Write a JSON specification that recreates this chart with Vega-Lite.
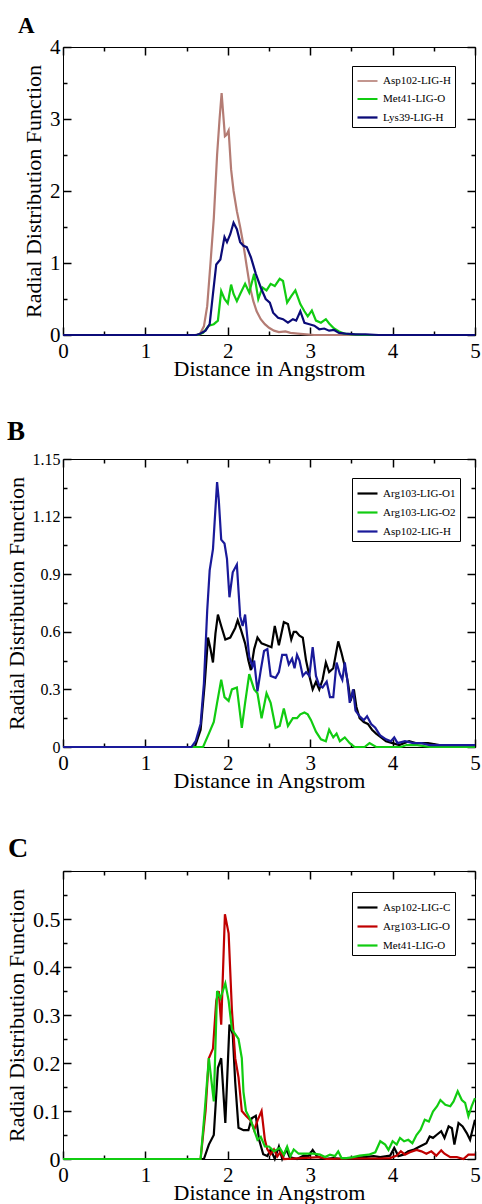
{
  "$schema": "https://vega.github.io/schema/vega-lite/v6.json",
  "padding": {"left": 4, "top": 14, "right": 5, "bottom": 0},
  "background": "white",
  "config": {
    "font": "Liberation Serif",
    "view": {"stroke": "black", "strokeWidth": 1},
    "axis": {"grid": false, "domain": false, "ticks": true, "zindex": 1, "tickColor": "black", "tickOpacity": 1, "tickWidth": 1.5, "tickSize": 8, "labelColor": "black", "titleColor": "black", "labelFont": "Liberation Serif", "titleFont": "Liberation Serif", "titleFontWeight": "normal", "labelFontSize": 21, "titleFontSize": 22, "labelOverlap": false, "labelFlush": false},
    "axisX": {"labelPadding": 5, "titlePadding": -3},
    "axisY": {"labelPadding": 3, "titlePadding": 4},
    "legend": {"orient": "none", "legendX": 289, "legendY": 19, "strokeColor": "black", "fillColor": "white", "padding": 4, "labelFont": "Liberation Serif", "labelFontSize": 11, "labelColor": "black", "symbolType": "stroke", "symbolSize": 400, "symbolStrokeWidth": 2.2, "rowPadding": 2, "labelOffset": 4, "title": null},
    "line": {"strokeWidth": 2.2}
  },
  "datasets": {
    "A": [
      {"s":"Asp102-LIG-H","x":0,"y":0},{"s":"Asp102-LIG-H","x":1.6,"y":0},{"s":"Asp102-LIG-H","x":1.66,"y":0.01},{"s":"Asp102-LIG-H","x":1.71,"y":0.12},{"s":"Asp102-LIG-H","x":1.75,"y":0.4},{"s":"Asp102-LIG-H","x":1.79,"y":1.0},{"s":"Asp102-LIG-H","x":1.83,"y":1.62},{"s":"Asp102-LIG-H","x":1.87,"y":2.5},{"s":"Asp102-LIG-H","x":1.9,"y":3.0},{"s":"Asp102-LIG-H","x":1.925,"y":3.36},{"s":"Asp102-LIG-H","x":1.965,"y":2.76},{"s":"Asp102-LIG-H","x":1.985,"y":2.78},{"s":"Asp102-LIG-H","x":2.01,"y":2.84},{"s":"Asp102-LIG-H","x":2.04,"y":2.3},{"s":"Asp102-LIG-H","x":2.07,"y":2.0},{"s":"Asp102-LIG-H","x":2.11,"y":1.72},{"s":"Asp102-LIG-H","x":2.15,"y":1.5},{"s":"Asp102-LIG-H","x":2.19,"y":1.25},{"s":"Asp102-LIG-H","x":2.23,"y":0.95},{"s":"Asp102-LIG-H","x":2.27,"y":0.66},{"s":"Asp102-LIG-H","x":2.31,"y":0.47},{"s":"Asp102-LIG-H","x":2.35,"y":0.33},{"s":"Asp102-LIG-H","x":2.4,"y":0.22},{"s":"Asp102-LIG-H","x":2.45,"y":0.15},{"s":"Asp102-LIG-H","x":2.5,"y":0.1},{"s":"Asp102-LIG-H","x":2.56,"y":0.06},{"s":"Asp102-LIG-H","x":2.62,"y":0.04},{"s":"Asp102-LIG-H","x":2.7,"y":0.05},{"s":"Asp102-LIG-H","x":2.76,"y":0.03},{"s":"Asp102-LIG-H","x":2.85,"y":0.02},{"s":"Asp102-LIG-H","x":2.95,"y":0.01},{"s":"Asp102-LIG-H","x":3.05,"y":0},{"s":"Asp102-LIG-H","x":5,"y":0},
      {"s":"Met41-LIG-O","x":0,"y":0},{"s":"Met41-LIG-O","x":1.63,"y":0},{"s":"Met41-LIG-O","x":1.7,"y":0.03},{"s":"Met41-LIG-O","x":1.77,"y":0.13},{"s":"Met41-LIG-O","x":1.83,"y":0.15},{"s":"Met41-LIG-O","x":1.88,"y":0.2},{"s":"Met41-LIG-O","x":1.92,"y":0.61},{"s":"Met41-LIG-O","x":1.96,"y":0.5},{"s":"Met41-LIG-O","x":2.0,"y":0.44},{"s":"Met41-LIG-O","x":2.04,"y":0.7},{"s":"Met41-LIG-O","x":2.07,"y":0.57},{"s":"Met41-LIG-O","x":2.11,"y":0.47},{"s":"Met41-LIG-O","x":2.15,"y":0.57},{"s":"Met41-LIG-O","x":2.21,"y":0.71},{"s":"Met41-LIG-O","x":2.26,"y":0.59},{"s":"Met41-LIG-O","x":2.32,"y":0.85},{"s":"Met41-LIG-O","x":2.37,"y":0.5},{"s":"Met41-LIG-O","x":2.42,"y":0.66},{"s":"Met41-LIG-O","x":2.47,"y":0.62},{"s":"Met41-LIG-O","x":2.52,"y":0.71},{"s":"Met41-LIG-O","x":2.57,"y":0.68},{"s":"Met41-LIG-O","x":2.63,"y":0.78},{"s":"Met41-LIG-O","x":2.67,"y":0.75},{"s":"Met41-LIG-O","x":2.72,"y":0.45},{"s":"Met41-LIG-O","x":2.77,"y":0.54},{"s":"Met41-LIG-O","x":2.82,"y":0.62},{"s":"Met41-LIG-O","x":2.88,"y":0.43},{"s":"Met41-LIG-O","x":2.93,"y":0.33},{"s":"Met41-LIG-O","x":2.97,"y":0.26},{"s":"Met41-LIG-O","x":3.02,"y":0.34},{"s":"Met41-LIG-O","x":3.07,"y":0.2},{"s":"Met41-LIG-O","x":3.13,"y":0.17},{"s":"Met41-LIG-O","x":3.19,"y":0.22},{"s":"Met41-LIG-O","x":3.23,"y":0.16},{"s":"Met41-LIG-O","x":3.29,"y":0.09},{"s":"Met41-LIG-O","x":3.35,"y":0.05},{"s":"Met41-LIG-O","x":3.41,"y":0.02},{"s":"Met41-LIG-O","x":3.51,"y":0.01},{"s":"Met41-LIG-O","x":3.63,"y":0},{"s":"Met41-LIG-O","x":5,"y":0},
      {"s":"Lys39-LIG-H","x":0,"y":0},{"s":"Lys39-LIG-H","x":1.62,"y":0},{"s":"Lys39-LIG-H","x":1.67,"y":0.02},{"s":"Lys39-LIG-H","x":1.73,"y":0.06},{"s":"Lys39-LIG-H","x":1.78,"y":0.15},{"s":"Lys39-LIG-H","x":1.82,"y":0.57},{"s":"Lys39-LIG-H","x":1.86,"y":0.98},{"s":"Lys39-LIG-H","x":1.91,"y":1.05},{"s":"Lys39-LIG-H","x":1.96,"y":1.36},{"s":"Lys39-LIG-H","x":1.99,"y":1.29},{"s":"Lys39-LIG-H","x":2.03,"y":1.4},{"s":"Lys39-LIG-H","x":2.07,"y":1.56},{"s":"Lys39-LIG-H","x":2.11,"y":1.47},{"s":"Lys39-LIG-H","x":2.15,"y":1.29},{"s":"Lys39-LIG-H","x":2.19,"y":1.24},{"s":"Lys39-LIG-H","x":2.23,"y":1.22},{"s":"Lys39-LIG-H","x":2.28,"y":1.08},{"s":"Lys39-LIG-H","x":2.34,"y":0.85},{"s":"Lys39-LIG-H","x":2.4,"y":0.66},{"s":"Lys39-LIG-H","x":2.46,"y":0.5},{"s":"Lys39-LIG-H","x":2.51,"y":0.45},{"s":"Lys39-LIG-H","x":2.55,"y":0.31},{"s":"Lys39-LIG-H","x":2.61,"y":0.24},{"s":"Lys39-LIG-H","x":2.67,"y":0.22},{"s":"Lys39-LIG-H","x":2.73,"y":0.17},{"s":"Lys39-LIG-H","x":2.79,"y":0.22},{"s":"Lys39-LIG-H","x":2.83,"y":0.2},{"s":"Lys39-LIG-H","x":2.88,"y":0.33},{"s":"Lys39-LIG-H","x":2.93,"y":0.17},{"s":"Lys39-LIG-H","x":2.99,"y":0.15},{"s":"Lys39-LIG-H","x":3.05,"y":0.13},{"s":"Lys39-LIG-H","x":3.11,"y":0.08},{"s":"Lys39-LIG-H","x":3.17,"y":0.09},{"s":"Lys39-LIG-H","x":3.23,"y":0.06},{"s":"Lys39-LIG-H","x":3.29,"y":0.07},{"s":"Lys39-LIG-H","x":3.35,"y":0.03},{"s":"Lys39-LIG-H","x":3.43,"y":0.02},{"s":"Lys39-LIG-H","x":3.55,"y":0.01},{"s":"Lys39-LIG-H","x":3.67,"y":0.01},{"s":"Lys39-LIG-H","x":3.83,"y":0},{"s":"Lys39-LIG-H","x":5,"y":0}
    ],
    "B": [
      {"s":"Arg103-LIG-O1","x":0,"y":0},{"s":"Arg103-LIG-O1","x":1.6,"y":0},{"s":"Arg103-LIG-O1","x":1.67,"y":0.09},{"s":"Arg103-LIG-O1","x":1.72,"y":0.33},{"s":"Arg103-LIG-O1","x":1.76,"y":0.57},{"s":"Arg103-LIG-O1","x":1.79,"y":0.51},{"s":"Arg103-LIG-O1","x":1.82,"y":0.44},{"s":"Arg103-LIG-O1","x":1.85,"y":0.59},{"s":"Arg103-LIG-O1","x":1.88,"y":0.69},{"s":"Arg103-LIG-O1","x":1.92,"y":0.63},{"s":"Arg103-LIG-O1","x":1.97,"y":0.56},{"s":"Arg103-LIG-O1","x":2.03,"y":0.57},{"s":"Arg103-LIG-O1","x":2.09,"y":0.62},{"s":"Arg103-LIG-O1","x":2.12,"y":0.66},{"s":"Arg103-LIG-O1","x":2.16,"y":0.61},{"s":"Arg103-LIG-O1","x":2.21,"y":0.54},{"s":"Arg103-LIG-O1","x":2.25,"y":0.45},{"s":"Arg103-LIG-O1","x":2.28,"y":0.4},{"s":"Arg103-LIG-O1","x":2.32,"y":0.51},{"s":"Arg103-LIG-O1","x":2.36,"y":0.57},{"s":"Arg103-LIG-O1","x":2.41,"y":0.54},{"s":"Arg103-LIG-O1","x":2.47,"y":0.53},{"s":"Arg103-LIG-O1","x":2.53,"y":0.52},{"s":"Arg103-LIG-O1","x":2.57,"y":0.63},{"s":"Arg103-LIG-O1","x":2.62,"y":0.53},{"s":"Arg103-LIG-O1","x":2.68,"y":0.65},{"s":"Arg103-LIG-O1","x":2.73,"y":0.64},{"s":"Arg103-LIG-O1","x":2.77,"y":0.56},{"s":"Arg103-LIG-O1","x":2.8,"y":0.6},{"s":"Arg103-LIG-O1","x":2.83,"y":0.6},{"s":"Arg103-LIG-O1","x":2.87,"y":0.58},{"s":"Arg103-LIG-O1","x":2.91,"y":0.57},{"s":"Arg103-LIG-O1","x":2.95,"y":0.45},{"s":"Arg103-LIG-O1","x":2.99,"y":0.37},{"s":"Arg103-LIG-O1","x":3.03,"y":0.3},{"s":"Arg103-LIG-O1","x":3.07,"y":0.34},{"s":"Arg103-LIG-O1","x":3.11,"y":0.3},{"s":"Arg103-LIG-O1","x":3.15,"y":0.35},{"s":"Arg103-LIG-O1","x":3.19,"y":0.44},{"s":"Arg103-LIG-O1","x":3.23,"y":0.39},{"s":"Arg103-LIG-O1","x":3.28,"y":0.41},{"s":"Arg103-LIG-O1","x":3.34,"y":0.55},{"s":"Arg103-LIG-O1","x":3.38,"y":0.49},{"s":"Arg103-LIG-O1","x":3.42,"y":0.42},{"s":"Arg103-LIG-O1","x":3.46,"y":0.33},{"s":"Arg103-LIG-O1","x":3.49,"y":0.24},{"s":"Arg103-LIG-O1","x":3.53,"y":0.3},{"s":"Arg103-LIG-O1","x":3.56,"y":0.21},{"s":"Arg103-LIG-O1","x":3.6,"y":0.15},{"s":"Arg103-LIG-O1","x":3.65,"y":0.13},{"s":"Arg103-LIG-O1","x":3.7,"y":0.12},{"s":"Arg103-LIG-O1","x":3.75,"y":0.09},{"s":"Arg103-LIG-O1","x":3.8,"y":0.07},{"s":"Arg103-LIG-O1","x":3.86,"y":0.05},{"s":"Arg103-LIG-O1","x":3.92,"y":0.03},{"s":"Arg103-LIG-O1","x":4.0,"y":0.02},{"s":"Arg103-LIG-O1","x":4.08,"y":0.01},{"s":"Arg103-LIG-O1","x":4.2,"y":0.03},{"s":"Arg103-LIG-O1","x":4.28,"y":0.02},{"s":"Arg103-LIG-O1","x":4.43,"y":0.02},{"s":"Arg103-LIG-O1","x":4.57,"y":0.01},{"s":"Arg103-LIG-O1","x":4.73,"y":0.01},{"s":"Arg103-LIG-O1","x":4.89,"y":0.01},{"s":"Arg103-LIG-O1","x":5.0,"y":0.01},
      {"s":"Arg103-LIG-O2","x":0,"y":0},{"s":"Arg103-LIG-O2","x":1.7,"y":0},{"s":"Arg103-LIG-O2","x":1.77,"y":0.07},{"s":"Arg103-LIG-O2","x":1.83,"y":0.13},{"s":"Arg103-LIG-O2","x":1.87,"y":0.23},{"s":"Arg103-LIG-O2","x":1.92,"y":0.35},{"s":"Arg103-LIG-O2","x":1.96,"y":0.26},{"s":"Arg103-LIG-O2","x":2.01,"y":0.24},{"s":"Arg103-LIG-O2","x":2.05,"y":0.3},{"s":"Arg103-LIG-O2","x":2.11,"y":0.31},{"s":"Arg103-LIG-O2","x":2.17,"y":0.1},{"s":"Arg103-LIG-O2","x":2.21,"y":0.23},{"s":"Arg103-LIG-O2","x":2.26,"y":0.38},{"s":"Arg103-LIG-O2","x":2.32,"y":0.3},{"s":"Arg103-LIG-O2","x":2.36,"y":0.28},{"s":"Arg103-LIG-O2","x":2.41,"y":0.15},{"s":"Arg103-LIG-O2","x":2.47,"y":0.28},{"s":"Arg103-LIG-O2","x":2.52,"y":0.23},{"s":"Arg103-LIG-O2","x":2.58,"y":0.1},{"s":"Arg103-LIG-O2","x":2.63,"y":0.11},{"s":"Arg103-LIG-O2","x":2.68,"y":0.2},{"s":"Arg103-LIG-O2","x":2.73,"y":0.11},{"s":"Arg103-LIG-O2","x":2.79,"y":0.15},{"s":"Arg103-LIG-O2","x":2.84,"y":0.15},{"s":"Arg103-LIG-O2","x":2.88,"y":0.17},{"s":"Arg103-LIG-O2","x":2.93,"y":0.18},{"s":"Arg103-LIG-O2","x":2.97,"y":0.17},{"s":"Arg103-LIG-O2","x":3.01,"y":0.14},{"s":"Arg103-LIG-O2","x":3.07,"y":0.08},{"s":"Arg103-LIG-O2","x":3.13,"y":0.04},{"s":"Arg103-LIG-O2","x":3.19,"y":0.03},{"s":"Arg103-LIG-O2","x":3.23,"y":0.09},{"s":"Arg103-LIG-O2","x":3.28,"y":0.05},{"s":"Arg103-LIG-O2","x":3.32,"y":0.07},{"s":"Arg103-LIG-O2","x":3.36,"y":0.03},{"s":"Arg103-LIG-O2","x":3.42,"y":0.05},{"s":"Arg103-LIG-O2","x":3.48,"y":0.02},{"s":"Arg103-LIG-O2","x":3.54,"y":0},{"s":"Arg103-LIG-O2","x":3.66,"y":0},{"s":"Arg103-LIG-O2","x":3.72,"y":0.02},{"s":"Arg103-LIG-O2","x":3.8,"y":0},{"s":"Arg103-LIG-O2","x":4.1,"y":0},{"s":"Arg103-LIG-O2","x":4.17,"y":0.01},{"s":"Arg103-LIG-O2","x":4.3,"y":0.01},{"s":"Arg103-LIG-O2","x":4.45,"y":0},{"s":"Arg103-LIG-O2","x":5,"y":0},
      {"s":"Asp102-LIG-H","x":0,"y":0},{"s":"Asp102-LIG-H","x":1.56,"y":0},{"s":"Asp102-LIG-H","x":1.61,"y":0.03},{"s":"Asp102-LIG-H","x":1.67,"y":0.12},{"s":"Asp102-LIG-H","x":1.71,"y":0.33},{"s":"Asp102-LIG-H","x":1.75,"y":0.71},{"s":"Asp102-LIG-H","x":1.78,"y":0.92},{"s":"Asp102-LIG-H","x":1.82,"y":1.03},{"s":"Asp102-LIG-H","x":1.84,"y":1.17},{"s":"Asp102-LIG-H","x":1.87,"y":1.38},{"s":"Asp102-LIG-H","x":1.89,"y":1.29},{"s":"Asp102-LIG-H","x":1.92,"y":1.08},{"s":"Asp102-LIG-H","x":1.96,"y":1.06},{"s":"Asp102-LIG-H","x":1.99,"y":0.98},{"s":"Asp102-LIG-H","x":2.02,"y":0.78},{"s":"Asp102-LIG-H","x":2.06,"y":0.91},{"s":"Asp102-LIG-H","x":2.11,"y":0.95},{"s":"Asp102-LIG-H","x":2.15,"y":0.68},{"s":"Asp102-LIG-H","x":2.18,"y":0.63},{"s":"Asp102-LIG-H","x":2.21,"y":0.69},{"s":"Asp102-LIG-H","x":2.26,"y":0.47},{"s":"Asp102-LIG-H","x":2.3,"y":0.42},{"s":"Asp102-LIG-H","x":2.32,"y":0.45},{"s":"Asp102-LIG-H","x":2.36,"y":0.29},{"s":"Asp102-LIG-H","x":2.4,"y":0.4},{"s":"Asp102-LIG-H","x":2.44,"y":0.5},{"s":"Asp102-LIG-H","x":2.48,"y":0.51},{"s":"Asp102-LIG-H","x":2.52,"y":0.37},{"s":"Asp102-LIG-H","x":2.58,"y":0.36},{"s":"Asp102-LIG-H","x":2.62,"y":0.39},{"s":"Asp102-LIG-H","x":2.66,"y":0.48},{"s":"Asp102-LIG-H","x":2.71,"y":0.48},{"s":"Asp102-LIG-H","x":2.74,"y":0.43},{"s":"Asp102-LIG-H","x":2.78,"y":0.46},{"s":"Asp102-LIG-H","x":2.81,"y":0.41},{"s":"Asp102-LIG-H","x":2.84,"y":0.48},{"s":"Asp102-LIG-H","x":2.87,"y":0.45},{"s":"Asp102-LIG-H","x":2.91,"y":0.37},{"s":"Asp102-LIG-H","x":2.95,"y":0.39},{"s":"Asp102-LIG-H","x":2.99,"y":0.37},{"s":"Asp102-LIG-H","x":3.03,"y":0.52},{"s":"Asp102-LIG-H","x":3.07,"y":0.37},{"s":"Asp102-LIG-H","x":3.11,"y":0.32},{"s":"Asp102-LIG-H","x":3.15,"y":0.31},{"s":"Asp102-LIG-H","x":3.2,"y":0.34},{"s":"Asp102-LIG-H","x":3.24,"y":0.26},{"s":"Asp102-LIG-H","x":3.28,"y":0.26},{"s":"Asp102-LIG-H","x":3.32,"y":0.44},{"s":"Asp102-LIG-H","x":3.36,"y":0.38},{"s":"Asp102-LIG-H","x":3.39,"y":0.35},{"s":"Asp102-LIG-H","x":3.42,"y":0.44},{"s":"Asp102-LIG-H","x":3.45,"y":0.35},{"s":"Asp102-LIG-H","x":3.48,"y":0.23},{"s":"Asp102-LIG-H","x":3.52,"y":0.3},{"s":"Asp102-LIG-H","x":3.55,"y":0.19},{"s":"Asp102-LIG-H","x":3.6,"y":0.16},{"s":"Asp102-LIG-H","x":3.65,"y":0.14},{"s":"Asp102-LIG-H","x":3.69,"y":0.16},{"s":"Asp102-LIG-H","x":3.74,"y":0.12},{"s":"Asp102-LIG-H","x":3.79,"y":0.1},{"s":"Asp102-LIG-H","x":3.85,"y":0.06},{"s":"Asp102-LIG-H","x":3.92,"y":0.04},{"s":"Asp102-LIG-H","x":3.98,"y":0.03},{"s":"Asp102-LIG-H","x":4.02,"y":0.05},{"s":"Asp102-LIG-H","x":4.06,"y":0.02},{"s":"Asp102-LIG-H","x":4.15,"y":0.03},{"s":"Asp102-LIG-H","x":4.25,"y":0.02},{"s":"Asp102-LIG-H","x":4.35,"y":0.02},{"s":"Asp102-LIG-H","x":4.45,"y":0.01},{"s":"Asp102-LIG-H","x":4.57,"y":0.01},{"s":"Asp102-LIG-H","x":4.69,"y":0.01},{"s":"Asp102-LIG-H","x":4.81,"y":0.01},{"s":"Asp102-LIG-H","x":4.94,"y":0.01},{"s":"Asp102-LIG-H","x":5,"y":0.01}
    ],
    "C": [
      {"s":"Asp102-LIG-C","x":0,"y":0},{"s":"Asp102-LIG-C","x":1.71,"y":0},{"s":"Asp102-LIG-C","x":1.77,"y":0.03},{"s":"Asp102-LIG-C","x":1.83,"y":0.05},{"s":"Asp102-LIG-C","x":1.88,"y":0.19},{"s":"Asp102-LIG-C","x":1.92,"y":0.21},{"s":"Asp102-LIG-C","x":1.97,"y":0.075},{"s":"Asp102-LIG-C","x":2.02,"y":0.28},{"s":"Asp102-LIG-C","x":2.06,"y":0.26},{"s":"Asp102-LIG-C","x":2.09,"y":0.16},{"s":"Asp102-LIG-C","x":2.13,"y":0.065},{"s":"Asp102-LIG-C","x":2.19,"y":0.06},{"s":"Asp102-LIG-C","x":2.25,"y":0.06},{"s":"Asp102-LIG-C","x":2.29,"y":0.085},{"s":"Asp102-LIG-C","x":2.34,"y":0.09},{"s":"Asp102-LIG-C","x":2.38,"y":0.04},{"s":"Asp102-LIG-C","x":2.43,"y":0.01},{"s":"Asp102-LIG-C","x":2.48,"y":0.006},{"s":"Asp102-LIG-C","x":2.52,"y":0.02},{"s":"Asp102-LIG-C","x":2.57,"y":0},{"s":"Asp102-LIG-C","x":2.62,"y":0.026},{"s":"Asp102-LIG-C","x":2.66,"y":0},{"s":"Asp102-LIG-C","x":2.71,"y":0.02},{"s":"Asp102-LIG-C","x":2.75,"y":0.004},{"s":"Asp102-LIG-C","x":2.84,"y":0},{"s":"Asp102-LIG-C","x":2.92,"y":0.007},{"s":"Asp102-LIG-C","x":2.98,"y":0.006},{"s":"Asp102-LIG-C","x":3.03,"y":0.019},{"s":"Asp102-LIG-C","x":3.08,"y":0.006},{"s":"Asp102-LIG-C","x":3.16,"y":0},{"s":"Asp102-LIG-C","x":3.28,"y":0.002},{"s":"Asp102-LIG-C","x":3.4,"y":0},{"s":"Asp102-LIG-C","x":3.52,"y":0.002},{"s":"Asp102-LIG-C","x":3.65,"y":0.004},{"s":"Asp102-LIG-C","x":3.77,"y":0.006},{"s":"Asp102-LIG-C","x":3.85,"y":0.004},{"s":"Asp102-LIG-C","x":3.97,"y":0.007},{"s":"Asp102-LIG-C","x":4.02,"y":0.023},{"s":"Asp102-LIG-C","x":4.07,"y":0.006},{"s":"Asp102-LIG-C","x":4.13,"y":0.009},{"s":"Asp102-LIG-C","x":4.19,"y":0.016},{"s":"Asp102-LIG-C","x":4.25,"y":0.019},{"s":"Asp102-LIG-C","x":4.33,"y":0.026},{"s":"Asp102-LIG-C","x":4.41,"y":0.033},{"s":"Asp102-LIG-C","x":4.45,"y":0.047},{"s":"Asp102-LIG-C","x":4.49,"y":0.044},{"s":"Asp102-LIG-C","x":4.54,"y":0.051},{"s":"Asp102-LIG-C","x":4.59,"y":0.058},{"s":"Asp102-LIG-C","x":4.63,"y":0.044},{"s":"Asp102-LIG-C","x":4.68,"y":0.068},{"s":"Asp102-LIG-C","x":4.72,"y":0.064},{"s":"Asp102-LIG-C","x":4.75,"y":0.03},{"s":"Asp102-LIG-C","x":4.8,"y":0.075},{"s":"Asp102-LIG-C","x":4.85,"y":0.068},{"s":"Asp102-LIG-C","x":4.9,"y":0.054},{"s":"Asp102-LIG-C","x":4.94,"y":0.04},{"s":"Asp102-LIG-C","x":5.0,"y":0.082},
      {"s":"Arg103-LIG-O","x":0,"y":0},{"s":"Arg103-LIG-O","x":1.67,"y":0},{"s":"Arg103-LIG-O","x":1.73,"y":0.1},{"s":"Arg103-LIG-O","x":1.77,"y":0.21},{"s":"Arg103-LIG-O","x":1.82,"y":0.23},{"s":"Arg103-LIG-O","x":1.86,"y":0.33},{"s":"Arg103-LIG-O","x":1.89,"y":0.35},{"s":"Arg103-LIG-O","x":1.92,"y":0.28},{"s":"Arg103-LIG-O","x":1.965,"y":0.51},{"s":"Arg103-LIG-O","x":2.01,"y":0.47},{"s":"Arg103-LIG-O","x":2.05,"y":0.31},{"s":"Arg103-LIG-O","x":2.09,"y":0.21},{"s":"Arg103-LIG-O","x":2.13,"y":0.17},{"s":"Arg103-LIG-O","x":2.17,"y":0.1},{"s":"Arg103-LIG-O","x":2.22,"y":0.09},{"s":"Arg103-LIG-O","x":2.28,"y":0.08},{"s":"Arg103-LIG-O","x":2.32,"y":0.06},{"s":"Arg103-LIG-O","x":2.36,"y":0.08},{"s":"Arg103-LIG-O","x":2.41,"y":0.1},{"s":"Arg103-LIG-O","x":2.45,"y":0.04},{"s":"Arg103-LIG-O","x":2.48,"y":0.02},{"s":"Arg103-LIG-O","x":2.52,"y":0.01},{"s":"Arg103-LIG-O","x":2.56,"y":0.02},{"s":"Arg103-LIG-O","x":2.6,"y":0.005},{"s":"Arg103-LIG-O","x":2.64,"y":0.015},{"s":"Arg103-LIG-O","x":2.68,"y":0},{"s":"Arg103-LIG-O","x":3.12,"y":0.004},{"s":"Arg103-LIG-O","x":3.2,"y":0},{"s":"Arg103-LIG-O","x":3.44,"y":0.001},{"s":"Arg103-LIG-O","x":3.85,"y":0.001},{"s":"Arg103-LIG-O","x":3.97,"y":0.002},{"s":"Arg103-LIG-O","x":4.05,"y":0.007},{"s":"Arg103-LIG-O","x":4.1,"y":0.016},{"s":"Arg103-LIG-O","x":4.15,"y":0.009},{"s":"Arg103-LIG-O","x":4.21,"y":0.014},{"s":"Arg103-LIG-O","x":4.29,"y":0.019},{"s":"Arg103-LIG-O","x":4.35,"y":0.016},{"s":"Arg103-LIG-O","x":4.41,"y":0.011},{"s":"Arg103-LIG-O","x":4.47,"y":0.016},{"s":"Arg103-LIG-O","x":4.53,"y":0.007},{"s":"Arg103-LIG-O","x":4.59,"y":0.018},{"s":"Arg103-LIG-O","x":4.63,"y":0.011},{"s":"Arg103-LIG-O","x":4.7,"y":0.004},{"s":"Arg103-LIG-O","x":4.78,"y":0.004},{"s":"Arg103-LIG-O","x":4.86,"y":0},{"s":"Arg103-LIG-O","x":4.92,"y":0.009},{"s":"Arg103-LIG-O","x":5.0,"y":0.009},
      {"s":"Met41-LIG-O","x":0,"y":0},{"s":"Met41-LIG-O","x":1.67,"y":0},{"s":"Met41-LIG-O","x":1.72,"y":0.1},{"s":"Met41-LIG-O","x":1.77,"y":0.21},{"s":"Met41-LIG-O","x":1.81,"y":0.15},{"s":"Met41-LIG-O","x":1.83,"y":0.12},{"s":"Met41-LIG-O","x":1.87,"y":0.35},{"s":"Met41-LIG-O","x":1.91,"y":0.335},{"s":"Met41-LIG-O","x":1.97,"y":0.366},{"s":"Met41-LIG-O","x":2.01,"y":0.33},{"s":"Met41-LIG-O","x":2.05,"y":0.27},{"s":"Met41-LIG-O","x":2.09,"y":0.26},{"s":"Met41-LIG-O","x":2.13,"y":0.25},{"s":"Met41-LIG-O","x":2.17,"y":0.21},{"s":"Met41-LIG-O","x":2.19,"y":0.14},{"s":"Met41-LIG-O","x":2.22,"y":0.1},{"s":"Met41-LIG-O","x":2.28,"y":0.08},{"s":"Met41-LIG-O","x":2.32,"y":0.06},{"s":"Met41-LIG-O","x":2.36,"y":0.04},{"s":"Met41-LIG-O","x":2.4,"y":0.046},{"s":"Met41-LIG-O","x":2.45,"y":0.026},{"s":"Met41-LIG-O","x":2.5,"y":0.026},{"s":"Met41-LIG-O","x":2.56,"y":0.016},{"s":"Met41-LIG-O","x":2.6,"y":0.02},{"s":"Met41-LIG-O","x":2.63,"y":0.023},{"s":"Met41-LIG-O","x":2.68,"y":0.009},{"s":"Met41-LIG-O","x":2.72,"y":0.026},{"s":"Met41-LIG-O","x":2.76,"y":0.006},{"s":"Met41-LIG-O","x":2.8,"y":0.02},{"s":"Met41-LIG-O","x":2.86,"y":0.011},{"s":"Met41-LIG-O","x":2.94,"y":0.011},{"s":"Met41-LIG-O","x":3.04,"y":0.011},{"s":"Met41-LIG-O","x":3.12,"y":0.009},{"s":"Met41-LIG-O","x":3.18,"y":0.004},{"s":"Met41-LIG-O","x":3.24,"y":0.009},{"s":"Met41-LIG-O","x":3.3,"y":0.006},{"s":"Met41-LIG-O","x":3.34,"y":0.016},{"s":"Met41-LIG-O","x":3.38,"y":0.002},{"s":"Met41-LIG-O","x":3.44,"y":0.002},{"s":"Met41-LIG-O","x":3.52,"y":0.004},{"s":"Met41-LIG-O","x":3.6,"y":0.007},{"s":"Met41-LIG-O","x":3.71,"y":0.009},{"s":"Met41-LIG-O","x":3.79,"y":0.014},{"s":"Met41-LIG-O","x":3.85,"y":0.037},{"s":"Met41-LIG-O","x":3.91,"y":0.03},{"s":"Met41-LIG-O","x":3.95,"y":0.019},{"s":"Met41-LIG-O","x":4.0,"y":0.037},{"s":"Met41-LIG-O","x":4.05,"y":0.03},{"s":"Met41-LIG-O","x":4.09,"y":0.044},{"s":"Met41-LIG-O","x":4.14,"y":0.037},{"s":"Met41-LIG-O","x":4.19,"y":0.04},{"s":"Met41-LIG-O","x":4.24,"y":0.033},{"s":"Met41-LIG-O","x":4.29,"y":0.05},{"s":"Met41-LIG-O","x":4.34,"y":0.061},{"s":"Met41-LIG-O","x":4.39,"y":0.082},{"s":"Met41-LIG-O","x":4.44,"y":0.078},{"s":"Met41-LIG-O","x":4.49,"y":0.099},{"s":"Met41-LIG-O","x":4.54,"y":0.11},{"s":"Met41-LIG-O","x":4.58,"y":0.123},{"s":"Met41-LIG-O","x":4.64,"y":0.113},{"s":"Met41-LIG-O","x":4.7,"y":0.11},{"s":"Met41-LIG-O","x":4.74,"y":0.12},{"s":"Met41-LIG-O","x":4.79,"y":0.141},{"s":"Met41-LIG-O","x":4.84,"y":0.123},{"s":"Met41-LIG-O","x":4.88,"y":0.117},{"s":"Met41-LIG-O","x":4.92,"y":0.089},{"s":"Met41-LIG-O","x":4.96,"y":0.11},{"s":"Met41-LIG-O","x":5.0,"y":0.127}
    ]
  },
  "resolve": {"scale": {"color": "independent", "strokeWidth": "independent"}, "legend": {"color": "independent"}},
  "bounds": "flush",
  "spacing": 124,
  "vconcat": [
    {
      "width": 412, "height": 288,
      "data": {"name": "A"},
      "title": {"text": "A", "anchor": "start", "frame": "group", "dx": -45, "offset": -2, "fontSize": 23, "fontWeight": "bold", "font": "Liberation Serif", "color": "black"},
      "layer": [
        {
          "mark": {"type": "line"},
          "encoding": {
            "x": {"field": "x", "type": "quantitative", "scale": {"domain": [0, 5], "nice": false, "zero": false},
                  "axis": {"orient": "bottom", "offset": -8, "title": "Distance in Angstrom", "values": [0,1,2,3,4,5], "format": "d"}},
            "y": {"field": "y", "type": "quantitative", "scale": {"domain": [0, 4], "nice": false},
                  "axis": {"orient": "left", "offset": -8, "title": "Radial Distribution Function", "values": [0,1,2,3,4], "format": "d"}},
            "color": {"field": "s", "type": "nominal", "scale": {"domain": ["Asp102-LIG-H", "Met41-LIG-O", "Lys39-LIG-H"], "range": ["#b47c74", "#11cc11", "#0b0b78"]}, "legend": {}},
            "strokeWidth": {"field": "s", "type": "nominal", "scale": {"domain": ["Asp102-LIG-H", "Met41-LIG-O", "Lys39-LIG-H"], "range": [1.6, 2.3, 2.3]}, "legend": null}
          }
        },
        {
          "mark": {"type": "line", "opacity": 0},
          "encoding": {
            "x": {"field": "x", "type": "quantitative", "axis": {"orient": "bottom", "offset": -4, "tickSize": 4, "title": null, "labels": false, "values": [0.5,1.5,2.5,3.5,4.5]}},
            "y": {"field": "y", "type": "quantitative", "axis": {"orient": "left", "offset": -4, "tickSize": 4, "title": null, "labels": false, "values": [0.5,1.5,2.5,3.5]}},
            "detail": {"field": "s"}
          }
        },
        {
          "mark": {"type": "line", "opacity": 0},
          "encoding": {
            "x": {"field": "x", "type": "quantitative", "axis": {"orient": "top", "offset": -8, "title": null, "labels": false, "values": [0,1,2,3,4,5]}},
            "y": {"field": "y", "type": "quantitative", "axis": {"orient": "right", "offset": -8, "title": null, "labels": false, "values": [0,1,2,3,4]}},
            "detail": {"field": "s"}
          }
        },
        {
          "mark": {"type": "line", "opacity": 0},
          "encoding": {
            "x": {"field": "x", "type": "quantitative", "axis": {"orient": "top", "offset": -4, "tickSize": 4, "title": null, "labels": false, "values": [0.5,1.5,2.5,3.5,4.5]}},
            "y": {"field": "y", "type": "quantitative", "axis": {"orient": "right", "offset": -4, "tickSize": 4, "title": null, "labels": false, "values": [0.5,1.5,2.5,3.5]}},
            "detail": {"field": "s"}
          }
        }
      ],
      "resolve": {"axis": {"x": "independent", "y": "independent"}}
    },
    {
      "width": 412, "height": 288,
      "data": {"name": "B"},
      "title": {"text": "B", "anchor": "start", "frame": "group", "dx": -56, "offset": 5, "fontSize": 27, "fontWeight": "bold", "font": "Liberation Serif", "color": "black"},
      "layer": [
        {
          "mark": {"type": "line"},
          "encoding": {
            "x": {"field": "x", "type": "quantitative", "scale": {"domain": [0, 5], "nice": false, "zero": false},
                  "axis": {"orient": "bottom", "offset": -8, "title": "Distance in Angstrom", "values": [0,1,2,3,4,5], "format": "d"}},
            "y": {"field": "y", "type": "quantitative", "scale": {"domain": [0, 1.5], "nice": false},
                  "axis": {"orient": "left", "offset": -8, "title": "Radial Distribution Function", "labelFontSize": 16, "values": [0,0.3,0.6,0.9,1.2,1.5],
                           "labelExpr": "datum.value==1.2 ? '1.12' : datum.value==1.5 ? '1.15' : format(datum.value,'.1~f')"}},
            "color": {"field": "s", "type": "nominal", "scale": {"domain": ["Arg103-LIG-O1", "Arg103-LIG-O2", "Asp102-LIG-H"], "range": ["#000000", "#11cc11", "#1a1a9a"]}, "legend": {}}
          }
        },
        {
          "mark": {"type": "line", "opacity": 0},
          "encoding": {
            "x": {"field": "x", "type": "quantitative", "axis": {"orient": "bottom", "offset": -4, "tickSize": 4, "title": null, "labels": false, "values": [0.5,1.5,2.5,3.5,4.5]}},
            "y": {"field": "y", "type": "quantitative", "axis": {"orient": "left", "offset": -4, "tickSize": 4, "title": null, "labels": false, "values": [0.15,0.45,0.75,1.05,1.35]}},
            "detail": {"field": "s"}
          }
        },
        {
          "mark": {"type": "line", "opacity": 0},
          "encoding": {
            "x": {"field": "x", "type": "quantitative", "axis": {"orient": "top", "offset": -8, "title": null, "labels": false, "values": [0,1,2,3,4,5]}},
            "y": {"field": "y", "type": "quantitative", "axis": {"orient": "right", "offset": -8, "title": null, "labels": false, "values": [0,0.3,0.6,0.9,1.2,1.5]}},
            "detail": {"field": "s"}
          }
        },
        {
          "mark": {"type": "line", "opacity": 0},
          "encoding": {
            "x": {"field": "x", "type": "quantitative", "axis": {"orient": "top", "offset": -4, "tickSize": 4, "title": null, "labels": false, "values": [0.5,1.5,2.5,3.5,4.5]}},
            "y": {"field": "y", "type": "quantitative", "axis": {"orient": "right", "offset": -4, "tickSize": 4, "title": null, "labels": false, "values": [0.15,0.45,0.75,1.05,1.35]}},
            "detail": {"field": "s"}
          }
        }
      ],
      "resolve": {"axis": {"x": "independent", "y": "independent"}}
    },
    {
      "width": 412, "height": 288,
      "data": {"name": "C"},
      "title": {"text": "C", "anchor": "start", "frame": "group", "dx": -55, "offset": -3, "fontSize": 28, "fontWeight": "bold", "font": "Liberation Serif", "color": "black"},
      "layer": [
        {
          "mark": {"type": "line"},
          "encoding": {
            "x": {"field": "x", "type": "quantitative", "scale": {"domain": [0, 5], "nice": false, "zero": false},
                  "axis": {"orient": "bottom", "offset": -8, "title": "Distance in Angstrom", "values": [0,1,2,3,4,5], "format": "d"}},
            "y": {"field": "y", "type": "quantitative", "scale": {"domain": [0, 0.6], "nice": false},
                  "axis": {"orient": "left", "offset": -8, "title": "Radial Distribution Function", "labelFontSize": 22, "values": [0,0.1,0.2,0.3,0.4,0.5,0.6],
                           "labelExpr": "datum.value > 0.55 ? '' : format(datum.value,'.1~f')"}},
            "color": {"field": "s", "type": "nominal", "scale": {"domain": ["Asp102-LIG-C", "Arg103-LIG-O", "Met41-LIG-O"], "range": ["#000000", "#c00000", "#11cc11"]}, "legend": {"legendY": 21}}
          }
        },
        {
          "mark": {"type": "line", "opacity": 0},
          "encoding": {
            "x": {"field": "x", "type": "quantitative", "axis": {"orient": "bottom", "offset": -4, "tickSize": 4, "title": null, "labels": false, "values": [0.5,1.5,2.5,3.5,4.5]}},
            "y": {"field": "y", "type": "quantitative", "axis": {"orient": "left", "offset": -4, "tickSize": 4, "title": null, "labels": false, "values": [0.05,0.15,0.25,0.35,0.45,0.55]}},
            "detail": {"field": "s"}
          }
        },
        {
          "mark": {"type": "line", "opacity": 0},
          "encoding": {
            "x": {"field": "x", "type": "quantitative", "axis": {"orient": "top", "offset": -8, "title": null, "labels": false, "values": [0,1,2,3,4,5]}},
            "y": {"field": "y", "type": "quantitative", "axis": {"orient": "right", "offset": -8, "title": null, "labels": false, "values": [0,0.1,0.2,0.3,0.4,0.5,0.6]}},
            "detail": {"field": "s"}
          }
        },
        {
          "mark": {"type": "line", "opacity": 0},
          "encoding": {
            "x": {"field": "x", "type": "quantitative", "axis": {"orient": "top", "offset": -4, "tickSize": 4, "title": null, "labels": false, "values": [0.5,1.5,2.5,3.5,4.5]}},
            "y": {"field": "y", "type": "quantitative", "axis": {"orient": "right", "offset": -4, "tickSize": 4, "title": null, "labels": false, "values": [0.05,0.15,0.25,0.35,0.45,0.55]}},
            "detail": {"field": "s"}
          }
        }
      ],
      "resolve": {"axis": {"x": "independent", "y": "independent"}}
    }
  ]
}
